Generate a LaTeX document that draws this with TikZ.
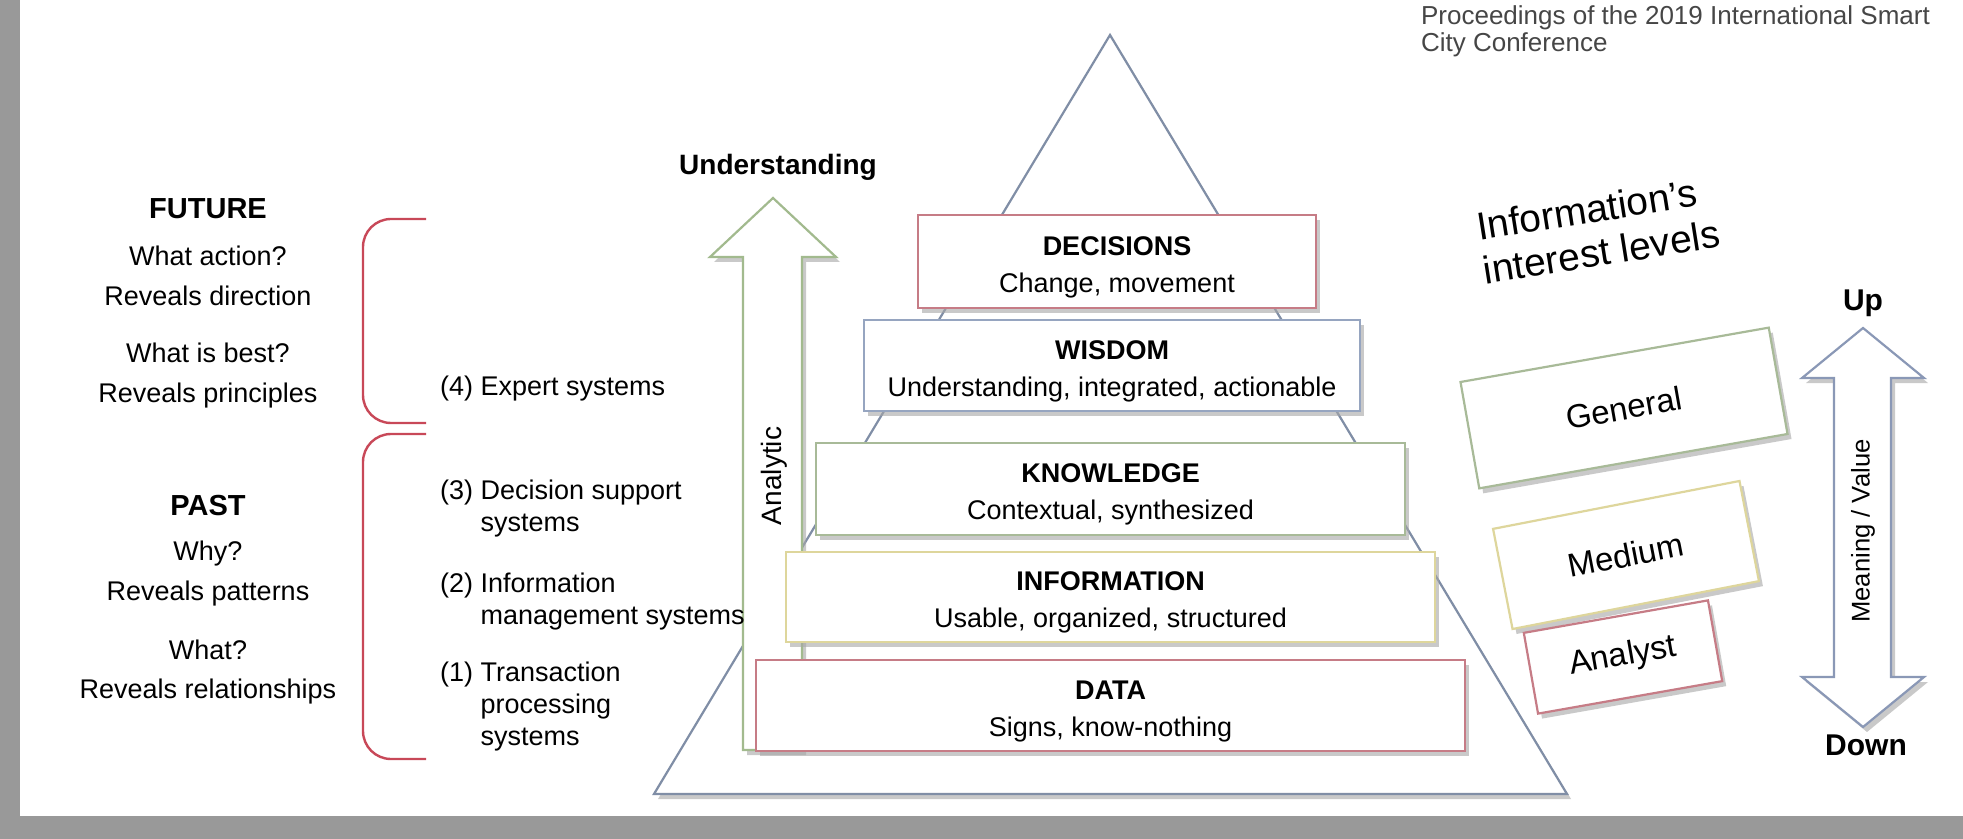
\documentclass[tikz,border=0pt]{standalone}
\usepackage{fontspec}
\setmainfont{Liberation Sans}
\usetikzlibrary{positioning, shadows}
\definecolor{bggray}{RGB}{153,153,153}
\definecolor{headgray}{RGB}{70,70,70}
\definecolor{tribl}{RGB}{128,142,166}
\definecolor{decred}{RGB}{198,124,134}
\definecolor{wisbl}{RGB}{150,165,192}
\definecolor{knowgr}{RGB}{168,186,152}
\definecolor{infoyl}{RGB}{222,214,156}
\definecolor{arrowgr}{RGB}{162,186,142}
\definecolor{bracered}{RGB}{200,72,88}
\definecolor{updownbl}{RGB}{138,152,182}
\newcommand\layertitle[1]{\rule{0pt}{15pt}\textbf{#1}}
\tikzset{
    shade/.style = {
        drop shadow={shadow xshift=2pt, shadow yshift=-2.5pt, fill=gray!70, opacity=.6}
    },
    layer/.style = {
        draw, fill=white, line width=1.1pt, align=center, inner sep=0pt, shade,
        font=\fontsize{13.5}{18.5}\selectfont
    },
    level/.style = {
        draw, fill=white, line width=1.1pt, rotate=10, inner sep=0pt, shade,
        font=\fontsize{16.5}{18}\selectfont
    },
    side/.style = {anchor=base, font=\fontsize{13.5}{16}\selectfont},
    sidehead/.style = {anchor=base, font=\fontsize{14.5}{16}\selectfont\bfseries},
    item/.style = {align=left, anchor=base west, font=\fontsize{13.5}{16}\selectfont},
    brace/.style = {draw=bracered, line width=1.2pt, rounded corners=14pt},
    blockarrow/.style = {line width=1.1pt, fill=white, shade}
}

\begin{document}
\begin{tikzpicture}[x=0.5pt, y=-0.5pt]
    \useasboundingbox (0,0) rectangle (1963,839);
    \fill[bggray] (0,0) rectangle (1963,839);
    \fill[white] (20,0) rectangle (1963,816);

    % base anchor of a multi-line node is its last line
    \node[align=left, anchor=base west, text=headgray, font=\fontsize{13}{13.5}\selectfont]
        (proc) at (1414,52) {Proceedings of the 2019 International Smart\\City Conference};

    % pyramid
    \draw[draw=tribl, line width=1.1pt, fill=white, shade] (1110,35) -- (1567,794) -- (654,794) -- cycle;

    \draw[blockarrow, draw=arrowgr] (743,750) -- (743,257) -- (710,257) -- (773,198)
        -- (836,257) -- (802,257) -- (802,750) -- cycle;
    \node[anchor=base, font=\fontsize{14}{16}\selectfont\bfseries] (under) at (778,175) {Understanding};
    \node[rotate=90, font=\fontsize{14}{16}\selectfont] (analytic) at (774,476) {Analytic};

    \node[layer, draw=decred, minimum width=354.5pt, minimum height=45.5pt] (data)
        at (1110.5,705.5) {\layertitle{DATA}\\Signs, know-nothing};
    \node[layer, draw=infoyl, minimum width=324.5pt, minimum height=45pt] (info)
        at (1110.5,597) {\layertitle{INFORMATION}\\Usable, organized, structured};
    \node[layer, draw=knowgr, minimum width=294.5pt, minimum height=46pt] (know)
        at (1110.5,489) {\layertitle{KNOWLEDGE}\\Contextual, synthesized};
    \node[layer, draw=wisbl, minimum width=248pt, minimum height=45.5pt] (wis)
        at (1112,365.5) {\layertitle{WISDOM}\\Understanding, integrated, actionable};
    \node[layer, draw=decred, minimum width=199pt, minimum height=46.5pt] (dec)
        at (1117,261.5) {\layertitle{DECISIONS}\\Change, movement};

    % left column
    \node[sidehead] (future) at (208,219) {FUTURE};
    \node[side] (q1) at (208,266) {What action?};
    \node[side] (r1) at (208,306) {Reveals direction};
    \node[side] (q2) at (208,363) {What is best?};
    \node[side] (r2) at (208,402) {Reveals principles};
    \node[sidehead] (past) at (208,515) {PAST};
    \node[side] (q3) at (208,560) {Why?};
    \node[side] (r3) at (208,600) {Reveals patterns};
    \node[side] (q4) at (208,659) {What?};
    \node[side] (r4) at (208,698) {Reveals relationships};

    \draw[brace] (426,219) -| (363,423) -- (426,423);
    \draw[brace] (426,434) -| (363,759) -- (426,759);

    \node[item] (s4) at (433,395) {(4) Expert systems};
    \node[item] (s3) at (433,531) {(3) Decision support\\\hphantom{(3) }systems};
    \node[item] (s2) at (433,624) {(2) Information\\\hphantom{(2) }management systems};
    \node[item] (s1) at (433,745) {(1) Transaction\\\hphantom{(1) }processing\\\hphantom{(1) }systems};

    % interest levels
    \node[align=left, rotate=9, font=\fontsize{19.5}{22}\selectfont] (levels)
        at (1598,230) {Information's\\interest levels};
    \node[level, draw=knowgr, minimum width=156.5pt, minimum height=54pt] (general) at (1624,408) {General};
    \node[level, draw=infoyl, minimum width=125.5pt, minimum height=51pt, rotate=1] (medium) at (1626,555) {Medium};
    \node[level, draw=decred, minimum width=93.5pt, minimum height=41pt] (analyst) at (1623,657) {Analyst};

    \draw[blockarrow, draw=updownbl] (1863,328) -- (1924,378) -- (1891,378) -- (1891,677)
        -- (1924,677) -- (1863,727) -- (1802,677) -- (1834,677) -- (1834,378) -- (1802,378) -- cycle;
    \node[anchor=base, font=\fontsize{15}{16}\selectfont\bfseries] (up) at (1863,311) {Up};
    \node[anchor=base, font=\fontsize{15}{16}\selectfont\bfseries] (down) at (1866,755) {Down};
    \node[rotate=90, font=\fontsize{12.8}{14}\selectfont] (meaning) at (1863,531) {Meaning / Value};
\end{tikzpicture}
\end{document}
